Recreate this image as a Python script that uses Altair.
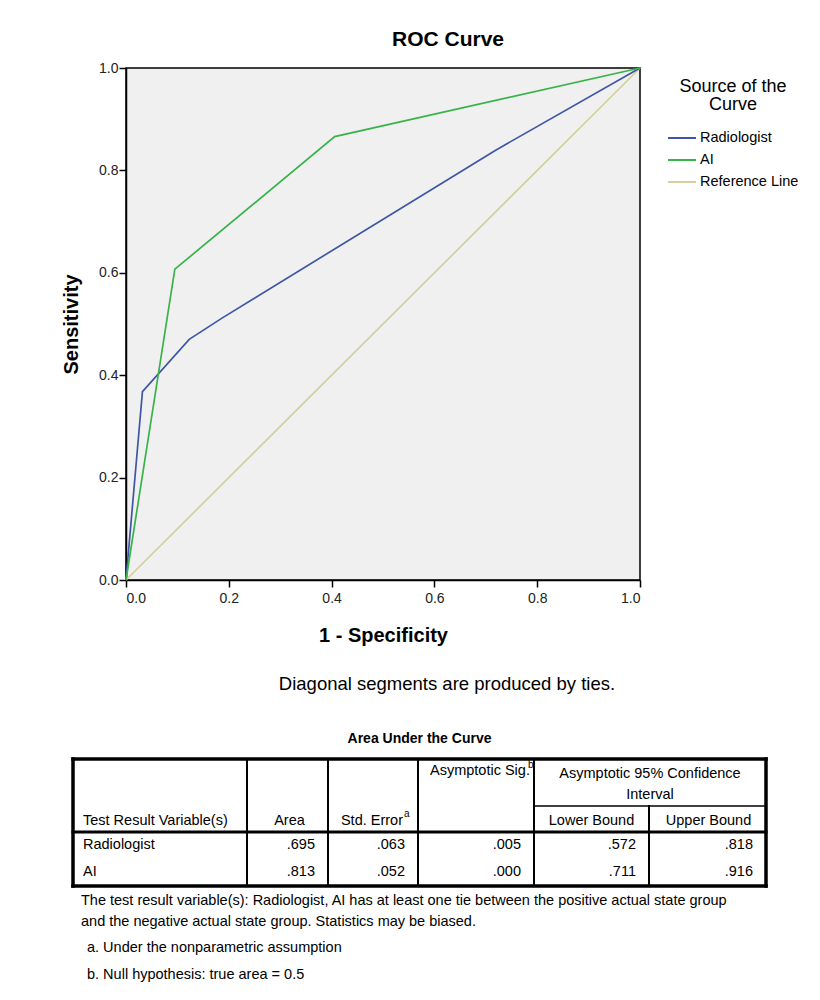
import altair as alt
import pandas as pd

FONT = "Liberation Sans"

# ROC curve coordinates: (1 - specificity, sensitivity)
radiologist_fpr = [0.0, 0.032, 0.123, 0.186, 0.72, 1.0]
radiologist_tpr = [0.0, 0.368, 0.470, 0.511, 0.84, 1.0]
ai_fpr = [0.0, 0.095, 0.406, 1.0]
ai_tpr = [0.0, 0.607, 0.866, 1.0]
reference_fpr = [0.0, 1.0]
reference_tpr = [0.0, 1.0]

series_names = ["Radiologist", "AI", "Reference Line"]
series_colors = ["#3E56A5", "#37B34A", "#D4CF9F"]
axis_ticks = [0.0, 0.2, 0.4, 0.6, 0.8, 1.0]

# Area Under the Curve summary table
auc_vars = ["Radiologist", "AI"]
auc_area = [0.695, 0.813]
auc_std_error = [0.063, 0.052]
auc_sig = [0.005, 0.000]
auc_lower = [0.572, 0.711]
auc_upper = [0.818, 0.916]

caption = "Diagonal segments are produced by ties."
table_title = "Area Under the Curve"
footnote_lines = [
    "The test result variable(s): Radiologist, AI has at least one tie between the positive actual state group",
    "and the negative actual state group. Statistics may be biased.",
]
footnote_a = "a. Under the nonparametric assumption"
footnote_b = "b. Null hypothesis: true area = 0.5"

# ---- page layout (pixels) ----
OX, OY = 126, 68          # plot origin
PW, PH = 514, 512         # plot size
COL = [73, 247, 328, 418, 534, 649, 766]   # table column edges
T_TOP, T_SUB, T_HEAD, T_BOT = 759, 806, 832, 886
ROW_BASE = [849, 876]

# ---- ROC lines ----
records = []
for name, xs, ys in [("Radiologist", radiologist_fpr, radiologist_tpr),
                     ("AI", ai_fpr, ai_tpr),
                     ("Reference Line", reference_fpr, reference_tpr)]:
    for i, (fx, ty) in enumerate(zip(xs, ys)):
        records.append({"series": name, "fpr": fx, "tpr": ty, "idx": i})
roc = pd.DataFrame(records)

x_enc = alt.X("fpr:Q", scale=alt.Scale(domain=[0, 1], nice=False, zero=False),
              axis=alt.Axis(values=axis_ticks, format=".1f", title="1 - Specificity",
                            labelPadding=4, titlePadding=20))
y_enc = alt.Y("tpr:Q", scale=alt.Scale(domain=[0, 1], nice=False, zero=False),
              axis=alt.Axis(values=axis_ticks, format=".1f", title="Sensitivity",
                            labelPadding=1, titlePadding=17))
color_enc = alt.Color(
    "series:N",
    scale=alt.Scale(domain=series_names, range=series_colors),
    legend=alt.Legend(
        title=["Source of the", "Curve"], orient="none", legendX=541, legendY=10,
        padding=0, titleFontSize=18, titleFontWeight="normal", titleColor="black",
        titleFont=FONT, titleAnchor="middle", titleAlign="center", titleLineHeight=18,
        titlePadding=9, labelFontSize=14.5, labelFont=FONT, labelColor="black",
        labelOffset=3, symbolType="stroke", symbolSize=784, symbolStrokeWidth=2,
        rowPadding=-1,
    ),
)

base = alt.Chart(roc).mark_line(strokeWidth=1.7).encode(
    x=x_enc, y=y_enc, color=color_enc, order="idx:Q"
)
line_layers = [base.transform_filter(alt.datum.series == s)
               for s in ["Reference Line", "Radiologist", "AI"]]


def px_enc():
    return dict(
        x=alt.X("px:Q", scale=None, axis=None),
        y=alt.Y("py:Q", scale=None, axis=None),
    )


def text_layer(rows, align, size, weight="normal"):
    df = pd.DataFrame(rows, columns=["label", "px", "py"])
    df["px"] = df["px"] - OX
    df["py"] = df["py"] - OY
    return alt.Chart(df).mark_text(
        align=align, baseline="alphabetic", fontSize=size, fontWeight=weight,
        font=FONT, color="black"
    ).encode(text="label:N", **px_enc())


def fmt(v):
    return f"{v:.3f}"[1:]


# ---- table grid ----
rules = [
    # outer border
    (COL[0], COL[-1], T_TOP, T_TOP, 3.5),
    (COL[0], COL[-1], T_BOT, T_BOT, 3.5),
    (COL[0], COL[0], T_TOP, T_BOT, 3.5),
    (COL[-1], COL[-1], T_TOP, T_BOT, 3.5),
    # header separator
    (COL[0], COL[-1], T_HEAD, T_HEAD, 3),
    # confidence-interval sub header
    (COL[4], COL[-1], T_SUB, T_SUB, 1.5),
    (COL[5], COL[5], T_SUB, T_BOT, 2),
]
for c in COL[1:5]:
    rules.append((c, c, T_TOP, T_BOT, 2))
rule_df = pd.DataFrame(rules, columns=["px", "px2", "py", "py2", "w"])
for k in ["px", "px2"]:
    rule_df[k] = rule_df[k] - OX
for k in ["py", "py2"]:
    rule_df[k] = rule_df[k] - OY
grid = alt.Chart(rule_df).mark_rule(color="black", strokeCap="square").encode(
    x=alt.X("px:Q", scale=None, axis=None),
    x2="px2:Q",
    y=alt.Y("py:Q", scale=None, axis=None),
    y2="py2:Q",
    strokeWidth=alt.StrokeWidth("w:Q", scale=None, legend=None),
)

centre = lambda i: (COL[i] + COL[i + 1]) / 2

header_center = text_layer([
    ("Area", centre(1) + 2, 825),
    ("Asymptotic 95% Confidence", (COL[4] + COL[6]) / 2, 778),
    ("Interval", (COL[4] + COL[6]) / 2, 799),
    ("Lower Bound", centre(4), 825),
    ("Upper Bound", centre(5) + 1, 825),
], "center", 14.5)
header_left = text_layer([
    ("Test Result Variable(s)", 83, 825),
    ("Asymptotic Sig.", 430, 775),
], "left", 14.5)
header_right = text_layer([("Std. Error", 403, 825)], "right", 14.5)
superscripts = text_layer([("a", 404, 817), ("b", 528, 768)], "left", 10)

body_left = text_layer([(v, 83, ROW_BASE[i]) for i, v in enumerate(auc_vars)], "left", 14.5)
body_vals = []
for i in range(len(auc_vars)):
    for j, arr in enumerate([auc_area, auc_std_error, auc_sig, auc_lower, auc_upper]):
        body_vals.append((fmt(arr[i]), COL[j + 2] - 13, ROW_BASE[i]))
body_right = text_layer(body_vals, "right", 14.5)

caption_layer = text_layer([(caption, 447, 690)], "center", 18.5)
table_title_layer = text_layer([(table_title, (COL[0] + COL[-1]) / 2, 743)], "center", 14, "bold")
notes_layer = text_layer([
    (footnote_lines[0], 81, 905),
    (footnote_lines[1], 81, 926),
    (footnote_a, 87, 952),
    (footnote_b, 87, 979),
], "left", 14.5)

chart = alt.layer(
    *line_layers, grid, header_center, header_left, header_right, superscripts,
    body_left, body_right, caption_layer, table_title_layer, notes_layer,
).properties(
    width=PW, height=PH, background="white",
    padding={"left": OX, "top": OY, "right": 820 - OX - PW, "bottom": 1000 - OY - PH},
    autosize=alt.AutoSizeParams(type="none"),
    title=alt.Title("ROC Curve", fontSize=21, fontWeight="bold", font=FONT,
                    color="black", anchor="middle", dx=65, offset=11),
).configure_view(
    fill="#F0F0F0", stroke="black", strokeWidth=1.5
).configure_axis(
    grid=False, domainColor="black", domainWidth=1.5, tickColor="black",
    tickWidth=1.5, tickSize=7, labelFontSize=14, labelFont=FONT, labelColor="#222",
    titleFontSize=20, titleFont=FONT, titleFontWeight="bold", titleColor="black",
)

chart.save("out.html", embed_options={"renderer": "svg", "actions": False})
